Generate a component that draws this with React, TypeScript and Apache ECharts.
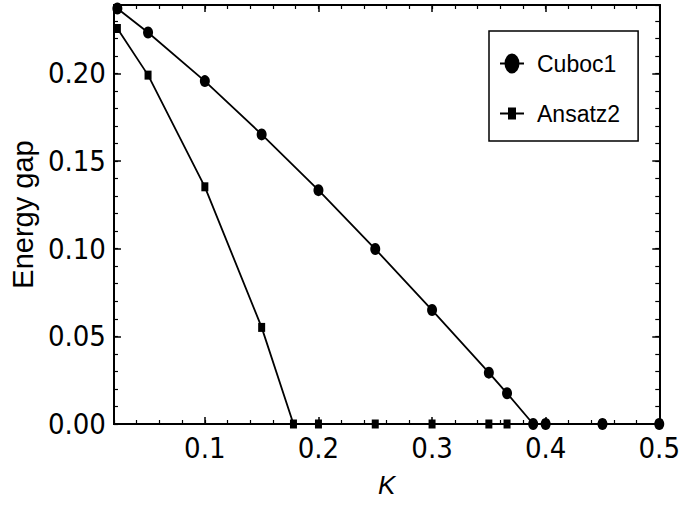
import React, { useEffect, useRef } from "react";
import * as echarts from "echarts";

// Data
const kCuboc1 = [0.023, 0.05, 0.1, 0.15, 0.2, 0.25, 0.3, 0.35, 0.366, 0.389, 0.4, 0.45, 0.5];
const gapCuboc1 = [0.237, 0.2233, 0.1956, 0.1652, 0.1334, 0.0998, 0.065, 0.0293, 0.0175, 0, 0, 0, 0];
const kAnsatz2 = [0.023, 0.05, 0.1, 0.15, 0.178, 0.2, 0.25, 0.3, 0.35, 0.366, 0.4, 0.45, 0.5];
const gapAnsatz2 = [0.2256, 0.199, 0.1353, 0.0551, 0, 0, 0, 0, 0, 0, 0, 0, 0];

const xMajorTicks = [0.1, 0.2, 0.3, 0.4, 0.5];
const yMajorTicks = [0, 0.05, 0.1, 0.15, 0.2];

const X_MIN = 0.02;
const X_MAX = 0.5;
const Y_MIN = 0;
const Y_MAX = 0.239;

const tickFont = "'Liberation Sans Narrow', 'DejaVu Sans Condensed', 'Liberation Sans', sans-serif";
const textFont = "'Liberation Sans', Arial, sans-serif";

const circleIcon =
  "path://M0,9 L24,9 L24,11 L0,11 Z M12,0 A7.5,10 0 1 1 12,20 A7.5,10 0 1 1 12,0 Z";
const squareIcon =
  "path://M0,9 L24,9 L24,11 L0,11 Z M8,4 L16,4 L16,16 L8,16 Z";

export default function App() {
  const ref = useRef<HTMLDivElement>(null);

  useEffect(() => {
    if (!ref.current) return;
    const chart = echarts.init(ref.current, undefined, { renderer: "svg" });

    const lineStyle = { color: "#000", width: 2 };

    const makeX = (position: "bottom" | "top", major: boolean, withLabel: boolean, withName: boolean) => ({
      type: "value",
      min: X_MIN,
      max: X_MAX,
      position,
      ...(major ? {} : { interval: 0.02 }),
      axisLine: { show: true, onZero: false, lineStyle },
      axisTick: major
        ? { show: true, inside: true, length: 7, customValues: xMajorTicks, lineStyle: { color: "#000", width: 1.5 } }
        : { show: true, inside: true, length: 4, lineStyle: { color: "#000", width: 1.2 } },
      axisLabel: withLabel
        ? {
            show: true,
            customValues: xMajorTicks,
            formatter: (v: number) => v.toFixed(1),
            fontSize: 29,
            color: "#000",
            margin: 9,
            fontFamily: tickFont,
          }
        : { show: false },
      splitLine: { show: false },
      ...(withName
        ? {
            name: "K",
            nameLocation: "middle",
            nameGap: 48,
            nameTextStyle: { fontSize: 26, fontStyle: "italic", color: "#000", fontFamily: textFont },
          }
        : {}),
    });

    const makeY = (position: "left" | "right", major: boolean, withLabel: boolean, withName: boolean) => ({
      type: "value",
      min: Y_MIN,
      max: Y_MAX,
      position,
      ...(major ? {} : { interval: 0.01 }),
      axisLine: { show: true, onZero: false, lineStyle },
      axisTick: major
        ? { show: true, inside: true, length: 7, customValues: yMajorTicks, lineStyle: { color: "#000", width: 1.5 } }
        : { show: true, inside: true, length: 4, lineStyle: { color: "#000", width: 1.2 } },
      axisLabel: withLabel
        ? {
            show: true,
            customValues: yMajorTicks,
            formatter: (v: number) => v.toFixed(2),
            fontSize: 29,
            color: "#000",
            margin: 8,
            fontFamily: tickFont,
          }
        : { show: false },
      splitLine: { show: false },
      ...(withName
        ? {
            name: "Energy gap",
            nameLocation: "middle",
            nameGap: 64,
            nameTextStyle: { fontSize: 29, color: "#000", fontFamily: textFont },
          }
        : {}),
    });

    chart.setOption({
      animation: false,
      backgroundColor: "#fff",
      grid: { left: 107, right: 19, top: 5, bottom: 103 },
      legend: {
        orient: "vertical",
        left: 489,
        top: 31,
        padding: [21, 18, 16, 11],
        itemWidth: 24,
        itemHeight: 20,
        itemGap: 27,
        borderColor: "#000",
        borderWidth: 1.5,
        textStyle: {
          fontSize: 23,
          color: "#000",
          fontFamily: textFont,
          padding: [0, 0, 0, 8],
        },
        data: [
          { name: "Cuboc1", icon: circleIcon },
          { name: "Ansatz2", icon: squareIcon },
        ],
      },
      xAxis: [
        makeX("bottom", true, true, true),
        makeX("bottom", false, false, false),
        makeX("top", true, false, false),
        makeX("top", false, false, false),
      ],
      yAxis: [
        makeY("left", true, true, true),
        makeY("left", false, false, false),
        makeY("right", true, false, false),
        makeY("right", false, false, false),
      ],
      series: [
        {
          name: "Cuboc1",
          type: "line",
          xAxisIndex: 0,
          yAxisIndex: 0,
          data: kCuboc1.map((k, i) => [k, gapCuboc1[i]]),
          symbol: "circle",
          symbolSize: [10, 12],
          clip: false,
          itemStyle: { color: "#000" },
          lineStyle: { color: "#000", width: 1.8 },
        },
        {
          name: "Ansatz2",
          type: "line",
          xAxisIndex: 0,
          yAxisIndex: 0,
          data: kAnsatz2.map((k, i) => [k, gapAnsatz2[i]]),
          symbol: "rect",
          symbolSize: [7, 9],
          clip: false,
          itemStyle: { color: "#000" },
          lineStyle: { color: "#000", width: 1.8 },
        },
      ],
    });

    return () => chart.dispose();
  }, []);

  return (
    <div
      ref={ref}
      style={{ position: "fixed", left: 0, top: 0, width: 683, height: 527, background: "#fff" }}
    />
  );
}
